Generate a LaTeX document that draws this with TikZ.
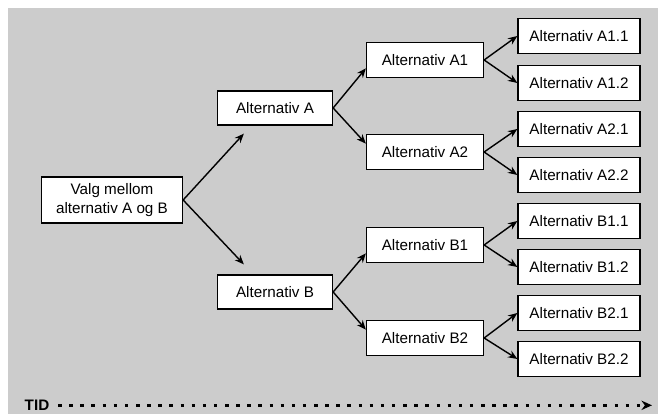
\documentclass[tikz,border=0pt]{standalone}
\usepackage{fontspec}
\setmainfont{Liberation Sans}
\usetikzlibrary{arrows.meta,calc}
\definecolor{bakgrunn}{gray}{0.80}
\begin{document}
\begin{tikzpicture}

\tikzset{valgnode/.style={rectangle,draw,fill=white,line width=1.1pt,minimum width=3.45cm,minimum height=1.02cm,inner sep=2pt,font=\fontsize{13}{15.5}\selectfont},}
\tikzset{valgnode2/.style={valgnode,minimum width=3.51cm,minimum height=1.05cm},}
\tikzset{valgnode3/.style={valgnode,minimum width=3.66cm,minimum height=1.05cm},}
\tikzset{rotnode/.style={valgnode,minimum width=4.23cm,minimum height=1.38cm,align=center},}
\tikzset{pil/.style={-{Stealth[length=8pt,width=6.5pt]},line width=1.2pt},}
\tikzset{tidpil/.style={-{Stealth[length=9pt,width=8pt]},line width=2.8pt,dash pattern=on 3pt off 6.5pt},}

\useasboundingbox (0,0) rectangle (19.74,12.42);
\fill[bakgrunn] (0.24,0) rectangle (19.74,12.18);

%VALG
\draw (3.36,6.42) node [rotnode] (valg) {Valg mellom\\alternativ A og B};

%A OG B
\draw (8.25,9.18) node [valgnode] (altA) {Alternativ A};
\draw (8.25,3.66) node [valgnode] (altB) {Alternativ B};

\draw[pil] (valg.east) -- ($(altA.south west)+(0.81,-0.24)$);
\draw[pil] (valg.east) -- ($(altB.north west)+(0.81,0.30)$);

%A1, A2, B1, B2
\draw (12.75,10.62) node [valgnode2] (altA1) {Alternativ A1};
\draw (12.75,7.86) node [valgnode2] (altA2) {Alternativ A2};
\draw (12.75,5.07) node [valgnode2] (altB1) {Alternativ B1};
\draw (12.75,2.28) node [valgnode2] (altB2) {Alternativ B2};

\draw[pil] (altA.east) -- ([yshift=-0.25cm]altA1.west);
\draw[pil] (altA.east) -- ([yshift=0.25cm]altA2.west);
\draw[pil] (altB.east) -- ([yshift=-0.25cm]altB1.west);
\draw[pil] (altB.east) -- ([yshift=0.25cm]altB2.west);

%SISTE NIVA
\draw (17.37,11.34) node [valgnode3] (altA11) {Alternativ A1.1};
\draw (17.37,9.93) node [valgnode3] (altA12) {Alternativ A1.2};
\draw (17.37,8.55) node [valgnode3] (altA21) {Alternativ A2.1};
\draw (17.37,7.17) node [valgnode3] (altA22) {Alternativ A2.2};
\draw (17.37,5.79) node [valgnode3] (altB11) {Alternativ B1.1};
\draw (17.37,4.41) node [valgnode3] (altB12) {Alternativ B1.2};
\draw (17.37,3.03) node [valgnode3] (altB21) {Alternativ B2.1};
\draw (17.37,1.65) node [valgnode3] (altB22) {Alternativ B2.2};

\draw[pil] (altA1.east) -- (altA11.west);
\draw[pil] (altA1.east) -- (altA12.west);
\draw[pil] (altA2.east) -- (altA21.west);
\draw[pil] (altA2.east) -- (altA22.west);
\draw[pil] (altB1.east) -- (altB11.west);
\draw[pil] (altB1.east) -- (altB12.west);
\draw[pil] (altB2.east) -- (altB21.west);
\draw[pil] (altB2.east) -- (altB22.west);

%TID
\draw (1.11,0.26) node [font=\bfseries\fontsize{13}{15}\selectfont] (tid) {TID};
\coordinate (tidslutt) at (19.56,0.26);
\draw[tidpil] ([xshift=4pt]tid.east) -- (tidslutt);

\end{tikzpicture}
\end{document}
